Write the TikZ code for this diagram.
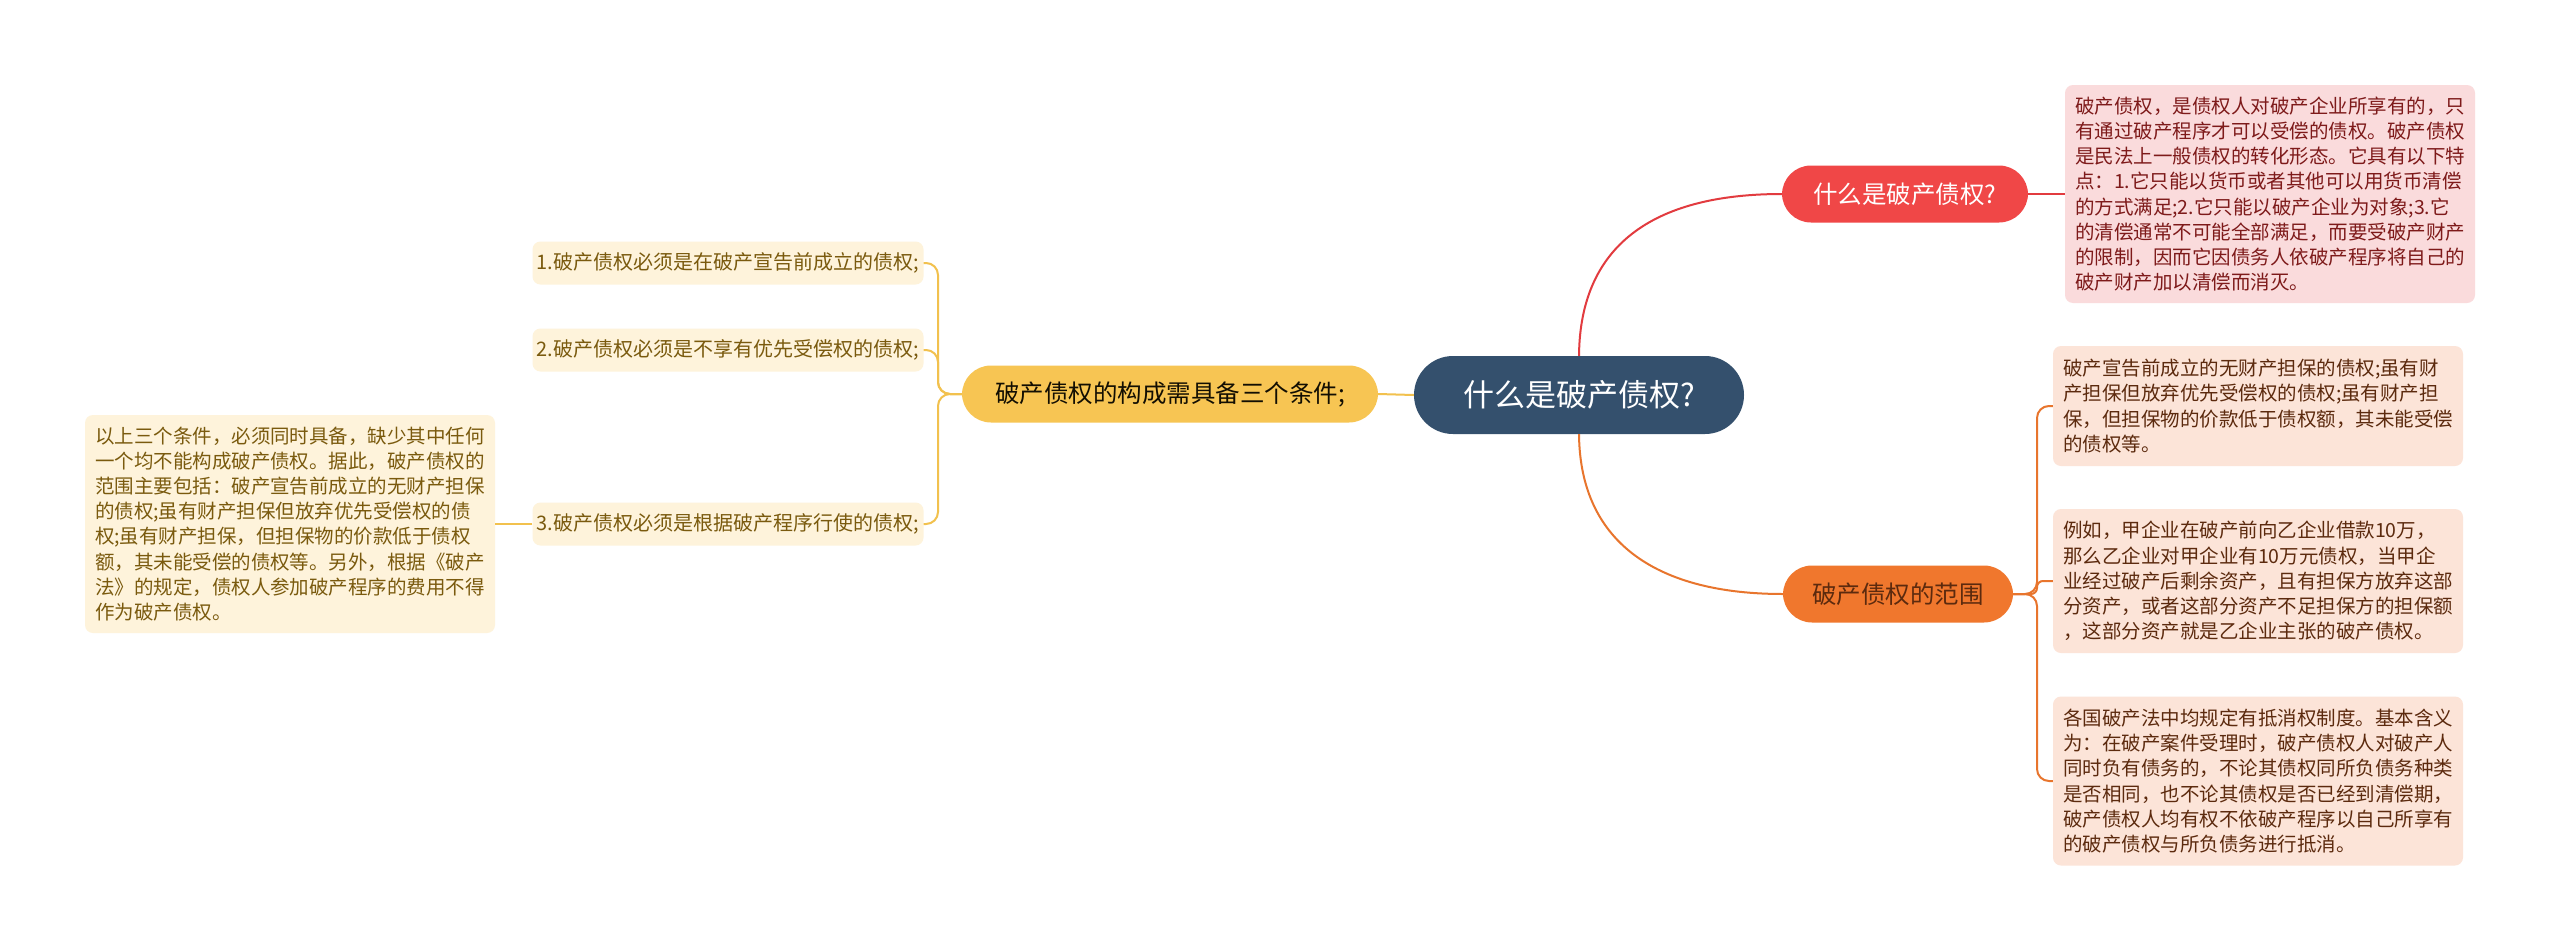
\documentclass[tikz,border=0pt]{standalone}
\usepackage{fontspec}
\setmainfont{Noto Sans CJK SC}
\definecolor{cblue}{HTML}{34506D}
\definecolor{cred}{HTML}{F04747}
\definecolor{credl}{HTML}{E23B3F}
\definecolor{cpink}{HTML}{FADBDC}
\definecolor{credt}{HTML}{7E1A1A}
\definecolor{corange}{HTML}{F0772D}
\definecolor{corl}{HTML}{E8752D}
\definecolor{cpeach}{HTML}{FCE4D8}
\definecolor{cort}{HTML}{5C2A0E}
\definecolor{cyel}{HTML}{F7C553}
\definecolor{cyell}{HTML}{F2C14E}
\definecolor{ccream}{HTML}{FEF3DB}
\definecolor{cyelt}{HTML}{7A5A0E}
\begin{document}
\begin{tikzpicture}[x=1pt,y=-1pt,
  pill/.style={rounded corners=29pt, inner sep=0pt, align=center},
  centerbox/.style={pill, rounded corners=39pt, fill=cblue, text=white, minimum width=330pt, minimum height=78pt, font=\fontsize{31}{36}\selectfont},
  redbox/.style={pill, fill=cred, text=white, minimum width=246pt, minimum height=57pt, font=\fontsize{24.5}{28}\selectfont},
  orbox/.style={pill, fill=corange, text=cort, minimum width=230pt, minimum height=57pt, font=\fontsize{24.5}{28}\selectfont},
  yelbox/.style={pill, fill=cyel, text=black!85!cyelt, minimum width=416pt, minimum height=57pt, font=\fontsize{24.5}{28}\selectfont},
  leaf/.style={rounded corners=8pt, inner xsep=10pt, inner ysep=0pt, align=left, font=\fontsize{19.5}{25.2}\selectfont},
  redleaf/.style={leaf, fill=cpink, text=credt},
  orleaf/.style={leaf, fill=cpeach, text=cort},
  yelleaf/.style={leaf, fill=ccream, text=cyelt},
  item/.style={rounded corners=8pt, inner sep=0pt, fill=ccream, text=cyelt, minimum width=391pt, minimum height=43pt, font=\fontsize{20}{24}\selectfont},
  redline/.style={draw=credl, line width=2pt},
  orline/.style={draw=corl, line width=2pt},
  yelline/.style={draw=cyell, line width=2pt}
]
\useasboundingbox[fill=white] (0,0) rectangle (2560,951);

% nodes
\node[centerbox] (c) at (1579,395) {什么是破产债权?};
\node[redbox] (rb) at (1905,194) {什么是破产债权?};
\node[orbox] (ob) at (1898,594) {破产债权的范围};
\node[yelbox] (yb) at (1170,394) {破产债权的构成需具备三个条件;};

\node[redleaf, minimum width=410pt, minimum height=218pt] (rl) at (2270,194) {破产债权，是债权人对破产企业所享有的，只\\有通过破产程序才可以受偿的债权。破产债权\\是民法上一般债权的转化形态。它具有以下特\\点：1.它只能以货币或者其他可以用货币清偿\\的方式满足;2.它只能以破产企业为对象;3.它\\的清偿通常不可能全部满足，而要受破产财产\\的限制，因而它因债务人依破产程序将自己的\\破产财产加以清偿而消灭。};

\node[orleaf, minimum width=408pt, minimum height=120pt] (o1) at (2258,406) {破产宣告前成立的无财产担保的债权;虽有财\\产担保但放弃优先受偿权的债权;虽有财产担\\保，但担保物的价款低于债权额，其未能受偿\\的债权等。};
\node[orleaf, minimum width=408pt, minimum height=144pt] (o2) at (2258,581) {例如，甲企业在破产前向乙企业借款10万，\\那么乙企业对甲企业有10万元债权，当甲企\\业经过破产后剩余资产，且有担保方放弃这部\\分资产，或者这部分资产不足担保方的担保额\\，这部分资产就是乙企业主张的破产债权。};
\node[orleaf, minimum width=408pt, minimum height=169pt] (o3) at (2258,781) {各国破产法中均规定有抵消权制度。基本含义\\为：在破产案件受理时，破产债权人对破产人\\同时负有债务的，不论其债权同所负债务种类\\是否相同，也不论其债权是否已经到清偿期，\\破产债权人均有权不依破产程序以自己所享有\\的破产债权与所负债务进行抵消。};

\node[item] (i1) at (728,263) {1.破产债权必须是在破产宣告前成立的债权;};
\node[item] (i2) at (728,350) {2.破产债权必须是不享有优先受偿权的债权;};
\node[item] (i3) at (728,524) {3.破产债权必须是根据破产程序行使的债权;};

\node[yelleaf, minimum width=410pt, minimum height=218pt] (yl) at (290,524) {以上三个条件，必须同时具备，缺少其中任何\\一个均不能构成破产债权。据此，破产债权的\\范围主要包括：破产宣告前成立的无财产担保\\的债权;虽有财产担保但放弃优先受偿权的债\\权;虽有财产担保，但担保物的价款低于债权\\额，其未能受偿的债权等。另外，根据《破产\\法》的规定，债权人参加破产程序的费用不得\\作为破产债权。};

% connectors
\coordinate (oj) at (2037,594);
\coordinate (yj) at (938,394);
\begin{scope}[on background layer/.style={}]
\path[redline] (c.north) .. controls (1580,240) and (1660,194) .. (rb.west);
\path[orline] (c.south) .. controls (1580,545) and (1660,594) .. (ob.west);
\path[yelline] (c.west) -- (yb.east);
\path[redline] (rb.east) -- (rl.west);
\path[orline, rounded corners=12pt] (ob.east) -- (oj) |- (o1.west);
\path[orline, rounded corners=6pt] (ob.east) -- (oj) |- (o2.west);
\path[orline, rounded corners=12pt] (ob.east) -- (oj) |- (o3.west);
\path[yelline, rounded corners=12pt] (yb.west) -- (yj) |- (i1.east);
\path[yelline, rounded corners=12pt] (yb.west) -- (yj) |- (i2.east);
\path[yelline, rounded corners=12pt] (yb.west) -- (yj) |- (i3.east);
\path[yelline] (i3.west) -- (yl.east);
\end{scope}
\end{tikzpicture}
\end{document}
